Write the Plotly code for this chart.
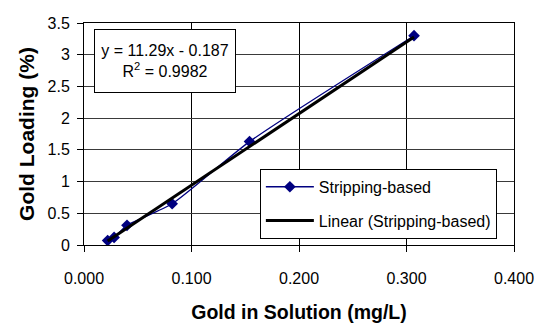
import plotly.graph_objects as go

# Data
gold_in_solution = [0.022, 0.028, 0.040, 0.082, 0.154, 0.307]   # mg/L
gold_loading = [0.07, 0.12, 0.31, 0.65, 1.63, 3.30]              # %
series_name = "Stripping-based"
trend_name = "Linear (Stripping-based)"
trend_slope = 11.29
trend_intercept = -0.187
r_squared = 0.9982

x_ticks = [0.0, 0.1, 0.2, 0.3, 0.4]
x_tick_labels = ["0.000", "0.100", "0.200", "0.300", "0.400"]
y_ticks = [0, 0.5, 1, 1.5, 2, 2.5, 3, 3.5]
y_tick_labels = ["0", "0.5", "1", "1.5", "2", "2.5", "3", "3.5"]

FONT = "Arial, 'Liberation Sans', sans-serif"

trend_x = [min(gold_in_solution), max(gold_in_solution)]
trend_y = [trend_slope * v + trend_intercept for v in trend_x]

fig = go.Figure()
fig.add_trace(go.Scatter(
    x=gold_in_solution, y=gold_loading, name=series_name,
    mode="lines+markers", line=dict(color="#000080", width=1.3, shape="spline", smoothing=0.6),
    marker=dict(symbol="diamond", size=9, color="#000080"),
    legendgroup="a",
))
fig.add_trace(go.Scatter(
    x=trend_x, y=trend_y, name=trend_name, mode="lines",
    line=dict(color="black", width=3), legendgroup="b",
))

fig.update_layout(
    width=537, height=323,
    margin=dict(l=84, r=23, t=23, b=78),
    paper_bgcolor="white", plot_bgcolor="white",
    font=dict(family=FONT, color="black", size=16),
    showlegend=True,
    legend=dict(
        x=0.409, y=0.343, xanchor="left", yanchor="top",
        bgcolor="white", bordercolor="black", borderwidth=1,
        font=dict(family=FONT, size=16, color="black"),
        tracegroupgap=10, traceorder="grouped", itemwidth=48,
    ),
    annotations=[dict(
        xref="paper", yref="paper", x=0.1877, y=0.8307,
        xanchor="center", yanchor="middle", showarrow=False,
        text=f"y = {trend_slope}x - {abs(trend_intercept)}<br>R<sup>2</sup> = {r_squared}",
        font=dict(family=FONT, size=16, color="black"),
        bgcolor="white", bordercolor="black", borderwidth=1, borderpad=4,
        width=132, height=54, align="center",
    )],
)

fig.update_xaxes(
    range=[0, 0.4], tickvals=x_ticks, ticktext=x_tick_labels,
    showgrid=True, gridcolor="black", gridwidth=1,
    showline=True, linecolor="black", linewidth=1, mirror=True,
    ticks="outside", ticklen=6, tickcolor="black",
    ticklabelstandoff=13, zeroline=False,
    tickfont=dict(family=FONT, size=16),
    title=dict(text="<b>Gold in Solution (mg/L)</b>", font=dict(family=FONT, size=19.5), standoff=21),
    automargin=False,
)
fig.update_yaxes(
    range=[0, 3.5], tickvals=y_ticks, ticktext=y_tick_labels,
    showgrid=True, gridcolor="#3a3a3a", gridwidth=1,
    showline=True, linecolor="black", linewidth=1, mirror=True,
    ticks="outside", ticklen=6, tickcolor="black",
    ticklabelstandoff=4, zeroline=False,
    tickfont=dict(family=FONT, size=16),
    title=dict(text="<b>Gold Loading (%)</b>", font=dict(family=FONT, size=21), standoff=7),
    automargin=False,
)

fig.write_html("out.html")
